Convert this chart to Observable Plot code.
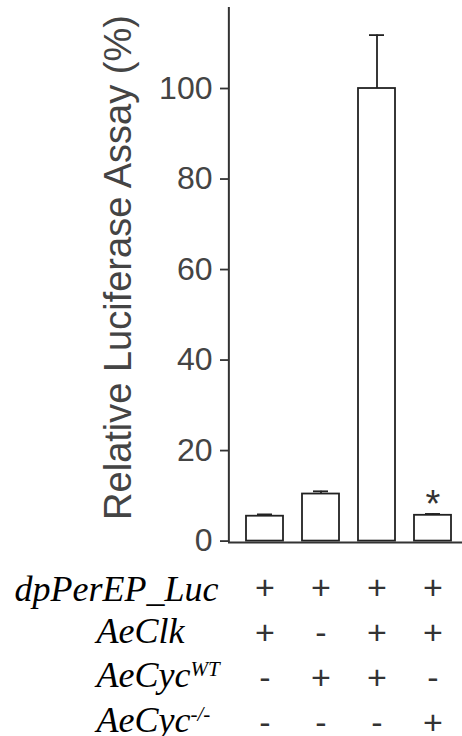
<!DOCTYPE html>
<html><head><meta charset="utf-8">
<script src="https://cdn.jsdelivr.net/npm/d3@7"></script>
<script src="https://cdn.jsdelivr.net/npm/@observablehq/plot@0.6"></script>
<style>html,body{margin:0;padding:0;background:#fff} svg{display:block}</style>
</head><body><div id="chart"></div>
<script>
// ---- data ----
const conditions = ["c1", "c2", "c3", "c4"];
const values = [5.5, 10.4, 100, 5.7];
const errors = [0.4, 0.6, 11.8, 0.3];
const significance = ["", "", "", "*"];
const yTicks = [0, 20, 40, 60, 80, 100];
const yLabel = "Relative Luciferase Assay (%)";
const rowNames = ["dpPerEP_Luc", "AeClk", "AeCyc", "AeCyc"];
const rowSup = ["", "", "WT", "-/-"];
const rowSigns = [
  ["+", "+", "+", "+"],
  ["+", "-", "+", "+"],
  ["-", "+", "+", "-"],
  ["-", "-", "-", "+"]
];

// ---- layout ----
const W = 462, H = 736;
const mL = 228, mT = 7, frameBottom = 542;
const yDomain = [-0.31, 117.9];
const signBaselines = [598.7, 643.2, 688.9, 733.2];
const labelBaselines = [600, 642, 686, 731.7];
const labelX = [14, 96, 96, 96];

const xOpts = {domain: conditions, range: [mL, 469], paddingInner: 0.343, paddingOuter: 0.314, axis: null};
const xScale = Plot.scale({x: {type: "band", ...xOpts}});
const axisDx = mL - (xScale.apply(conditions[0]) + xScale.bandwidth / 2);

const bars = conditions.map((c, i) => ({cond: c, value: values[i], err: errors[i], sig: significance[i]}));
const labelRows = rowNames.map((n, r) => ({name: n, sup: rowSup[r], r}));

const marks = [
  Plot.barY(bars, {x: "cond", y: "value", fill: "white", stroke: "#222", strokeWidth: 1.8}),
  Plot.ruleX(bars, {x: "cond", y1: "value", y2: d => d.value + d.err, stroke: "#222", strokeWidth: 1.8}),
  Plot.tickY(bars, {x: "cond", y: d => d.value + d.err, stroke: "#222", strokeWidth: 1.8, insetLeft: 11, insetRight: 11}),
  Plot.text(bars.filter(d => d.sig), {x: "cond", y: d => d.value + d.err, text: "sig", fontSize: 38, fill: "#333", lineAnchor: "bottom", dy: 3}),
  Plot.axisY({ticks: yTicks, tickSize: 8, tickPadding: 8, fontSize: 32, fill: "#444", stroke: "#333", strokeOpacity: 1, strokeWidth: 1.8, label: null, tickFormat: d => String(d)}),
  // y axis line
  Plot.ruleX([conditions[0]], {x: d => d, y1: yDomain[0], y2: yDomain[1], dx: axisDx, stroke: "#333", strokeWidth: 2}),
  // x axis line
  Plot.ruleY([yDomain[0]], {stroke: "#333", strokeWidth: 2}),
  Plot.text([yLabel], {frameAnchor: "left", rotate: -90, dx: 118 - mL, dy: -7.5, fontSize: 38, fill: "#444", textAnchor: "middle", lineAnchor: "middle"})
];

rowSigns.forEach((row, r) => {
  const data = conditions.map((c, i) => ({cond: c, sign: row[i]}));
  marks.push(Plot.text(data, {x: "cond", text: "sign", frameAnchor: "bottom", dy: signBaselines[r] - frameBottom, lineAnchor: "bottom", fontSize: 34, fill: "#333"}));
});

labelRows.forEach((row) => {
  marks.push(Plot.text([row], {text: "name", frameAnchor: "bottom-left", dx: labelX[row.r] - mL, dy: labelBaselines[row.r] - frameBottom, textAnchor: "start", lineAnchor: "bottom", fontSize: 36, fontStyle: "italic", fill: "#000", fontFamily: "Liberation Serif, Times New Roman, serif", title: d => "row" + d.r}));
});

const chart = Plot.plot({
  width: W, height: H,
  marginLeft: mL, marginRight: 0, marginTop: mT, marginBottom: H - frameBottom,
  style: {fontFamily: "Liberation Sans, Arial, sans-serif", background: "white"},
  x: xOpts,
  y: {domain: yDomain, axis: null},
  marks
});

// italic serif row labels with superscripts
const svg = d3.select(chart);
labelRows.forEach((row) => {
  svg.selectAll("text").filter(function() {
    const t = this.querySelector("title");
    return t && t.textContent === "row" + row.r;
  }).each(function() {
    const el = d3.select(this);
    el.select("title").remove();
    el.style("font-family", "'Liberation Serif', 'Times New Roman', serif").style("font-style", "italic");
    if (row.sup) {
      el.append("tspan").attr("dy", -11).attr("font-size", 21).text(row.sup);
    }
  });
});

document.getElementById("chart").appendChild(chart);
</script>
</body></html>
